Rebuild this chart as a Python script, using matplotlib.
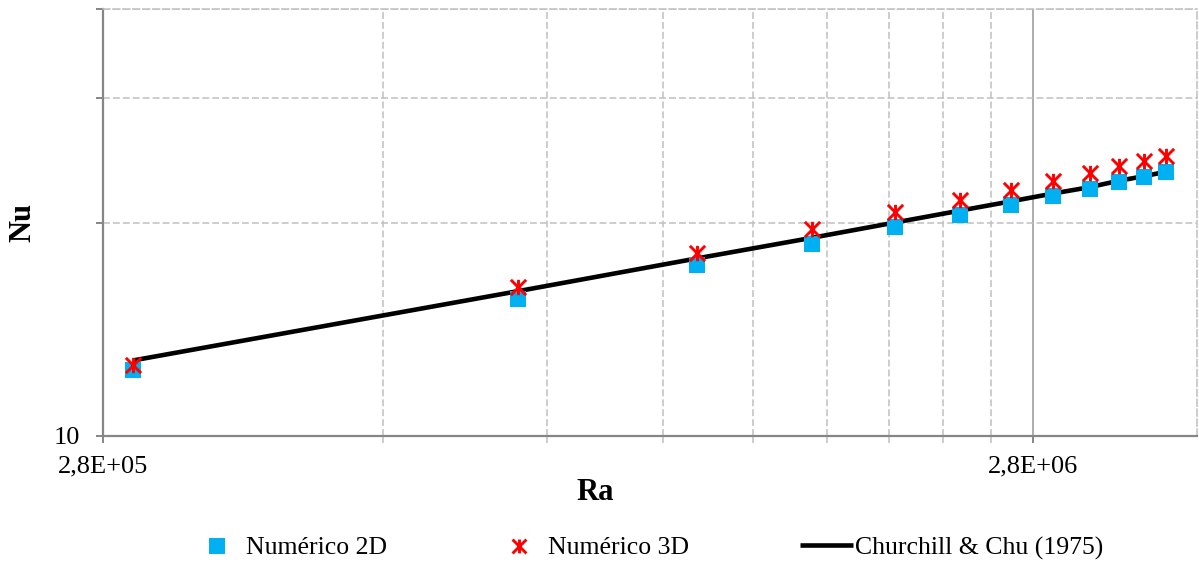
import matplotlib
matplotlib.use("Agg")
import matplotlib.pyplot as plt
from matplotlib.path import Path
from matplotlib.lines import Line2D

# Rayleigh numbers of the simulated cases
ra = [3.02e5, 7.82e5, 1.219e6, 1.62e6, 1.99e6, 2.338e6, 2.65e6,
      2.94e6, 3.22e6, 3.46e6, 3.68e6, 3.89e6]
# Nusselt numbers
nu_2d = [12.38, 15.62, 17.40, 18.66, 19.70, 20.52, 21.20,
         21.81, 22.30, 22.78, 23.15, 23.53]
nu_3d = [12.58, 16.22, 18.13, 19.60, 20.69, 21.54, 22.25,
         22.91, 23.49, 24.00, 24.45, 24.85]
nu_cc = [12.78, 16.00, 17.80, 19.03, 20.00, 20.79, 21.42,
         21.97, 22.43, 22.90, 23.24, 23.58]

x_major = [2.8e5, 2.8e6]
x_major_labels = ["2,8E+05", "2,8E+06"]
x_minor = [2.8e5 * k for k in range(2, 10)]
y_major = [10]
y_major_labels = ["10"]
y_minor = [20, 30, 40]

labels = ["Numérico 2D", "Numérico 3D", "Churchill & Chu (1975)"]

plt.rcParams["font.family"] = ["Liberation Serif", "DejaVu Serif"]

SQ_COLOR = "#00B0F0"
STAR_COLOR = "#FF0000"
GRID_COLOR = "#C0C0C0"
AXIS_COLOR = "#868686"

# asterisk marker: an X crossed by a vertical bar
star = Path(
    [(-0.5, -0.5), (0.5, 0.5), (-0.5, 0.5), (0.5, -0.5), (0, -0.5), (0, 0.5)],
    [Path.MOVETO, Path.LINETO, Path.MOVETO, Path.LINETO, Path.MOVETO, Path.LINETO],
)

fig = plt.figure(figsize=(11.99, 5.65), dpi=100)
ax = fig.add_axes([102.5 / 1199, 1 - 436 / 565, 1094.5 / 1199, 427 / 565])

ax.set_xscale("log")
ax.set_yscale("log")
ax.set_xlim(2.8e5, 4.2e6)
ax.set_ylim(10, 40)

ax.set_xticks(x_major)
ax.set_xticklabels(x_major_labels)
ax.set_xticks(x_minor, minor=True)
ax.set_xticklabels([""] * len(x_minor), minor=True)
ax.set_yticks(y_major)
ax.set_yticklabels(y_major_labels)
ax.set_yticks(y_minor, minor=True)
ax.set_yticklabels([""] * len(y_minor), minor=True)

dash = (0, (4.5, 2))
ax.grid(True, which="minor", axis="both", color=GRID_COLOR, lw=1.1, ls=dash)
ax.grid(True, which="major", axis="x", color="#A6A6A6", lw=1.3, ls="-")

ax.tick_params(axis="both", which="both", direction="out", length=5,
               width=1.4, color=AXIS_COLOR, labelsize=19)
ax.tick_params(axis="x", which="major", pad=9)
ax.tick_params(axis="y", which="major", pad=11)
ax.tick_params(axis="x", which="minor", color=GRID_COLOR, width=1.1)
ax.tick_params(axis="y", which="minor", color=AXIS_COLOR)

for side in ("left", "bottom"):
    ax.spines[side].set_color(AXIS_COLOR)
    ax.spines[side].set_linewidth(1.6)
for side in ("top", "right"):
    ax.spines[side].set_color(GRID_COLOR)
    ax.spines[side].set_linewidth(1.1)
    ax.spines[side].set_linestyle(dash)

MS = 12
ax.plot(ra, nu_cc, color="black", lw=3.3, zorder=3, solid_capstyle="butt")
ax.plot(ra, nu_2d, ls="none", marker="s", ms=MS, mfc=SQ_COLOR,
        mec=SQ_COLOR, mew=0, zorder=4)
ax.plot(ra, nu_3d, ls="none", marker=star, ms=MS - 1, mfc="none",
        mec=STAR_COLOR, mew=2.1, zorder=5)

ax.set_xlabel("Ra", fontsize=22, fontweight="bold")
ax.set_ylabel("Nu", fontsize=22, fontweight="bold")
ax.xaxis.set_label_coords((595.5 - 102.5) / 1094.5, (436 - 492) / 427)
ax.xaxis.label.set_va("center")
ax.yaxis.set_label_coords((23 - 102.5) / 1094.5, 0.5)
ax.yaxis.label.set_va("center")

handles = [
    Line2D([], [], ls="none", marker="s", ms=MS - 1, mfc=SQ_COLOR, mec=SQ_COLOR, mew=0),
    Line2D([], [], ls="none", marker=star, ms=MS - 2, mfc="none", mec=STAR_COLOR, mew=2.1),
    Line2D([], [], color="black", lw=3.3, solid_capstyle="butt"),
]
starts = [191, 493, 800]
for h, lab, x0 in zip(handles, labels, starts):
    fig.legend([h], [lab], loc="center left",
               bbox_to_anchor=(x0 / 1199, 1 - 548 / 565),
               frameon=False, fontsize=18.5, handlelength=2.05,
               handletextpad=0.1, borderpad=0, borderaxespad=0)

fig.savefig("out.png", dpi=100)
